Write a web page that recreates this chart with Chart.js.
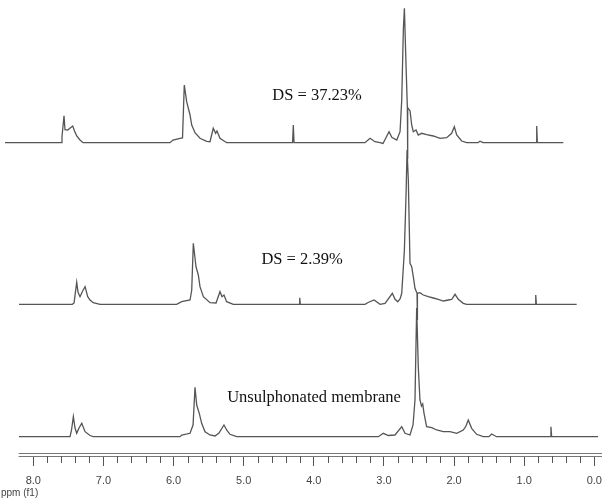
<!DOCTYPE html>
<html>
<head>
<meta charset="utf-8">
<script src="https://cdn.jsdelivr.net/npm/chart.js@4.4.1/dist/chart.umd.min.js"></script>
<style>
html, body { margin: 0; padding: 0; background: #fff; }
#wrap { width: 602px; height: 504px; }
</style>
</head>
<body>
<div id="wrap"><canvas id="nmrChart"></canvas></div>
<script>
// 1H NMR spectra, chemical shift in ppm and relative intensity
var ppmDS37 = [8.404, 7.605, 7.591, 7.562, 7.548, 7.510, 7.438, 7.412, 7.381, 7.334, 7.291,
    6.051, 6.008, 5.908, 5.872, 5.847, 5.813, 5.765, 5.741, 5.694, 5.623, 5.527, 5.480, 5.434, 5.400, 5.381, 5.338, 5.243,
    4.303, 4.292, 4.282,
    3.270, 3.198, 3.127, 3.055, 3.013, 2.927, 2.888, 2.817, 2.770, 2.746, 2.723, 2.708, 2.684, 2.666, 2.663, 2.659,
    2.652, 2.628, 2.604, 2.581, 2.542, 2.510, 2.462, 2.391, 2.296, 2.200, 2.105, 2.034, 1.996, 1.962, 1.891, 1.820,
    1.658, 1.630, 1.587, 0.831, 0.821, 0.812, 0.441];
var intDS37 = [0, 0, 6, 27, 13, 12.7, 16.7, 11.7, 6.7, 2.7, 0,
    0, 2.7, 4.4, 4.7, 57.7, 41, 27.7, 17.7, 10, 4.4, 1.4, 1, 14.4, 9.4, 11.7, 4.4, 0,
    0, 17.7, 0,
    0, 4.4, 1, 0, -0.8, 11, 5.4, 2.7, 11, 42.7, 112.7, 134.4, 76, 36, -16, 34,
    34, 32, 17.7, 11, 12.7, 7.7, 9.4, 8, 6.7, 4.4, 5, 9.4, 16, 7.7, 1.7, 0,
    0, 1.5, 0, 0, 16.7, 0, 0];

var ppmDS2 = [8.204, 7.444, 7.419, 7.405, 7.381, 7.362, 7.334, 7.298, 7.262, 7.224, 7.191, 7.145, 7.049,
    5.956, 5.884, 5.765, 5.741, 5.718, 5.680, 5.647, 5.623, 5.575, 5.480, 5.394, 5.338, 5.309, 5.281, 5.243, 5.148,
    4.211, 4.201, 4.192,
    3.270, 3.226, 3.141, 3.055, 2.984, 2.880, 2.841, 2.803, 2.770, 2.746, 2.708, 2.684, 2.670, 2.652, 2.628, 2.604,
    2.581, 2.557, 2.528, 2.524, 2.520, 2.486, 2.438, 2.367, 2.296, 2.224, 2.153, 2.082, 2.034, 1.986, 1.939, 1.868, 1.820,
    0.845, 0.835, 0.826, 0.251];
var intDS2 = [0, 0, 1.3, 9, 22, 12, 7.6, 13, 17.6, 7.6, 4.3, 1.6, 0,
    0, 2.6, 4.3, 14, 61, 37.6, 29.3, 17.6, 7.6, 1.6, 1.3, 12.6, 7.6, 9.3, 2.6, 0,
    0, 6.5, 0,
    0, 1.8, 4.3, 0, 0.8, 11, 5, 2.6, 5.3, 11, 54.3, 111, 154.3, 124.3, 41, 37.6,
    27.6, 16, 11, -15.7, 11, 11.6, 9.3, 7.6, 6.3, 5, 3.3, 4.3, 4.8, 10, 5, 1, 0,
    0, 9.3, 0, 0];

var ppmUnsulph = [8.204, 7.476, 7.455, 7.429, 7.405, 7.381, 7.348, 7.309, 7.262, 7.191, 7.145,
    5.908, 5.884, 5.765, 5.722, 5.694, 5.670, 5.633, 5.599, 5.551, 5.480, 5.409, 5.352, 5.281, 5.243, 5.196, 5.100,
    3.080, 3.009, 2.937, 2.842, 2.746, 2.699, 2.628, 2.585, 2.557, 2.533, 2.510, 2.486, 2.464, 2.447, 2.428,
    2.391, 2.319, 2.247, 2.153, 2.058, 1.962, 1.868, 1.830, 1.797, 1.749, 1.678, 1.583, 1.502, 1.464, 1.393,
    0.628, 0.618, 0.608, -0.053];
var intUnsulph = [0, 0, 6.7, 20, 8.7, 3.4, 8.7, 13.4, 5, 1.2, 0,
    0, 1.7, 3.4, 11.7, 49.4, 31.7, 23.4, 13.4, 5, 1.7, 0.7, 3.7, 11.7, 6.7, 2.4, 0,
    0, 3.4, 1.2, 1.7, 10, 3.4, 1.7, 11.7, 36.7, 128.7, 70, 36.7, 30.7, 32.7, 23.4,
    10, 9, 6.7, 5, 5, 3.4, 6.7, 10.7, 16.7, 8.4, 2.4, 0, 0, 2.7, 0,
    0, 10, 0, 0];

var axisTicks = [8, 7, 6, 5, 4, 3, 2, 1, 0];
var axisTitle = 'ppm (f1)';
var traceLabels = ['DS = 37.23%', 'DS = 2.39%', 'Unsulphonated membrane'];

// vertical stacking of the three spectra and where their captions sit
var stackOffset = [313.3, 151.7, 19.3];
var labelPpm = [3.954, 4.168, 3.997];
var labelLevel = [360, 196.7, 58.3];

function toPoints(ppm, inten, off) {
    return ppm.map(function (p, i) { return { x: p, y: inten[i] + off }; });
}

function traceSet(pts) {
    return {
        data: pts,
        borderColor: '#555',
        borderWidth: 1.3,
        pointRadius: 0,
        fill: false,
        tension: 0
    };
}

var axisExtras = {
    id: 'axisExtras',
    afterDraw: function (chart) {
        var ctx = chart.ctx;
        var xs = chart.scales.x, ys = chart.scales.y;
        var bottom = chart.chartArea.bottom;
        ctx.save();

        // double axis line
        ctx.strokeStyle = '#777';
        ctx.lineWidth = 1.2;
        var x0 = xs.getPixelForValue(8.21);
        [bottom + 0.5, bottom - 2.5].forEach(function (yy) {
            ctx.beginPath();
            ctx.moveTo(x0, yy);
            ctx.lineTo(chart.width, yy);
            ctx.stroke();
        });

        // minor ticks every 0.2 ppm
        ctx.strokeStyle = '#555';
        ctx.lineWidth = 1;
        for (var k = 1; k < 40; k++) {
            if (k % 5 === 0) continue;
            var px = Math.round(xs.getPixelForValue(k * 0.2)) + 0.5;
            ctx.beginPath();
            ctx.moveTo(px, bottom);
            ctx.lineTo(px, bottom + 7);
            ctx.stroke();
        }

        // axis title under the labels
        ctx.font = '10px "Liberation Sans"';
        ctx.fillStyle = '#444';
        ctx.textAlign = 'left';
        ctx.textBaseline = 'middle';
        ctx.fillText(axisTitle, 1, bottom + 37);

        // captions
        ctx.font = '16.5px "Liberation Serif"';
        ctx.fillStyle = '#111';
        ctx.textAlign = 'center';
        traceLabels.forEach(function (t, i) {
            ctx.fillText(t, xs.getPixelForValue(labelPpm[i]), ys.getPixelForValue(labelLevel[i]));
        });
        ctx.restore();
    }
};

document.addEventListener('DOMContentLoaded', function () {
    var ctx = document.getElementById('nmrChart').getContext('2d');

    var nmrChart = new Chart(ctx, {
        type: 'line',
        data: {
            datasets: [
                traceSet(toPoints(ppmDS37, intDS37, stackOffset[0])),
                traceSet(toPoints(ppmDS2, intDS2, stackOffset[1])),
                traceSet(toPoints(ppmUnsulph, intUnsulph, stackOffset[2]))
            ]
        },
        options: {
            responsive: true,
            maintainAspectRatio: false,
            animation: false,
            devicePixelRatio: 1,
            layout: { padding: { left: 0, right: 0, top: 0, bottom: 8.8 }, autoPadding: false },
            plugins: {
                legend: { display: false },
                tooltip: { enabled: false }
            },
            scales: {
                x: {
                    type: 'linear',
                    reverse: true,
                    min: -0.110,
                    max: 8.475,
                    afterBuildTicks: function (axis) {
                        axis.ticks = axisTicks.map(function (v) { return { value: v }; });
                    },
                    afterFit: function (axis) {
                        axis.paddingLeft = 0;
                        axis.paddingRight = 0;
                    },
                    grid: {
                        drawOnChartArea: false,
                        drawTicks: true,
                        tickLength: 10,
                        tickColor: '#555',
                        tickWidth: 1
                    },
                    border: { display: false },
                    ticks: {
                        padding: 8,
                        color: '#444',
                        autoSkip: false,
                        maxRotation: 0,
                        font: { family: 'Liberation Sans', size: 11 },
                        callback: function (v) { return Number(v).toFixed(1); }
                    }
                },
                y: {
                    display: false,
                    min: 0,
                    max: 456
                }
            }
        },
        plugins: [axisExtras]
    });
});
</script>
</body>
</html>
